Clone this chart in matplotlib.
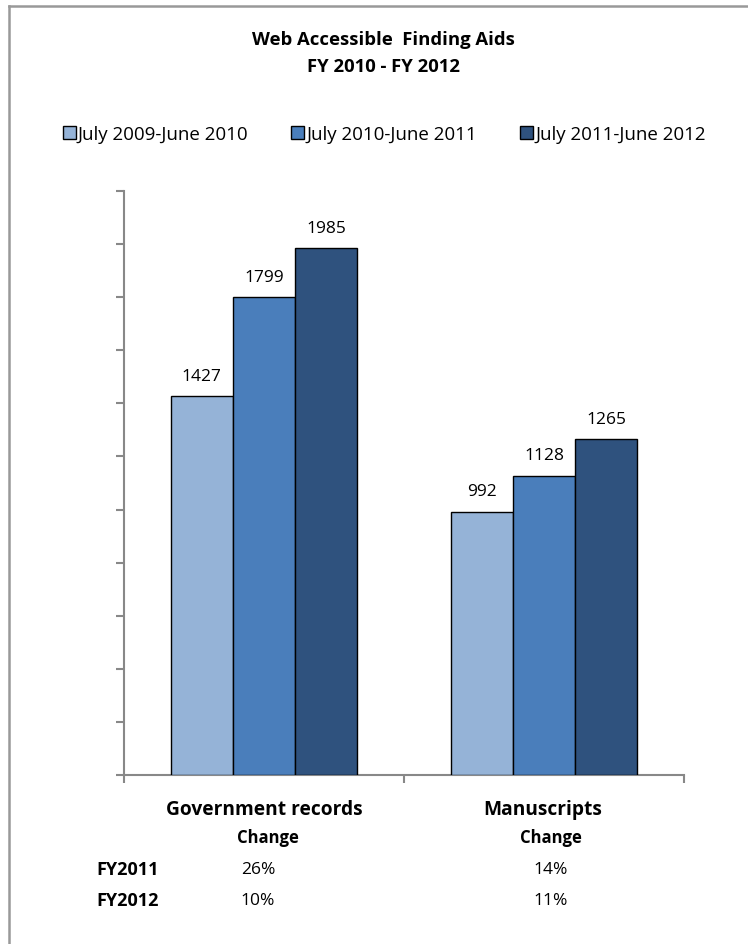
import matplotlib
matplotlib.use("Agg")
import matplotlib.pyplot as plt
from matplotlib.patches import Patch
from matplotlib.lines import Line2D
import numpy as np

plt.rcParams['font.family'] = ['Open Sans', 'DejaVu Sans']

categories = ["Government records", "Manuscripts"]
series_names = ["July 2009-June 2010", "July 2010-June 2011", "July 2011-June 2012"]
fy2010 = [1427, 992]
fy2011 = [1799, 1128]
fy2012 = [1985, 1265]
change_rows = ["FY2011", "FY2012"]
change_gov = ["26%", "10%"]
change_man = ["14%", "11%"]

colors = ["#95B3D7", "#4A7EBB", "#2F527E"]

W, H = 748, 945
fig = plt.figure(figsize=(W / 100, H / 100), dpi=100)

# outer chart frame (top and left edges visible)
fig.add_artist(Line2D([9 / W, 9 / W], [0, 1 - 7 / H], color="#999999", lw=1.8,
                      transform=fig.transFigure))
fig.add_artist(Line2D([9 / W, 1], [1 - 7 / H, 1 - 7 / H], color="#999999", lw=1.8,
                      transform=fig.transFigure))

ax = fig.add_axes([124 / W, 1 - 776 / H, 560 / W, 584 / H])

x = np.arange(len(categories))
bw = 0.222
for i, vals in enumerate([fy2010, fy2011, fy2012]):
    bars = ax.bar(x + (i - 1) * bw, vals, bw, color=colors[i], edgecolor="black",
                  linewidth=1.0, label=series_names[i], zorder=3)
    for b, v in zip(bars, vals):
        ax.annotate(f"{v}", (b.get_x() + b.get_width() / 2, v), xytext=(0, 9),
                    textcoords="offset points", ha="center", va="bottom", fontsize=12.5)

ax.set_xlim(-0.5, 1.5)
ax.set_ylim(0, 2200)
ax.set_yticks(np.arange(0, 2201, 200))
ax.set_yticklabels([])
ax.set_xticks([-0.5, 0.5, 1.5])
ax.set_xticklabels([])
for s in ["top", "right"]:
    ax.spines[s].set_visible(False)
for s in ["left", "bottom"]:
    ax.spines[s].set_color("#888888")
    ax.spines[s].set_linewidth(1.5)
ax.tick_params(axis="both", direction="out", length=6, width=1.5, color="#888888")

# category names and change table beneath the axis
fig_x = lambda px: px / W
fig_y = lambda py: 1 - py / H
cat_x = [264, 543]
for cx, name in zip(cat_x, categories):
    fig.text(fig_x(cx), fig_y(810), name, ha="center", va="center",
             fontsize=13.8, fontweight="bold")
fig.text(fig_x(268), fig_y(838), "Change", ha="center", va="center", fontsize=12, fontweight="bold")
fig.text(fig_x(551), fig_y(838), "Change", ha="center", va="center", fontsize=12, fontweight="bold")
row_y = [870, 901]
for ry, lab, g, m in zip(row_y, change_rows, change_gov, change_man):
    fig.text(fig_x(96), fig_y(ry), lab, ha="left", va="center", fontsize=13, fontweight="bold")
    fig.text(fig_x(258), fig_y(ry), g, ha="center", va="center", fontsize=12.5)
    fig.text(fig_x(551), fig_y(ry), m, ha="center", va="center", fontsize=12.5)

# title
fig.text(fig_x(383), fig_y(40), "Web Accessible  Finding Aids", ha="center", va="center",
         fontsize=13.3, fontweight="bold")
fig.text(fig_x(383), fig_y(67), "FY 2010 - FY 2012", ha="center", va="center",
         fontsize=13.3, fontweight="bold")

handles = [Patch(facecolor=c, edgecolor="black", linewidth=1.0) for c in colors]
fig.legend(handles, series_names, loc="center", bbox_to_anchor=(fig_x(384), fig_y(135)),
           ncol=3, frameon=False, fontsize=13.5, handlelength=0.7, handleheight=0.7,
           handletextpad=0.1, columnspacing=2.3)

fig.savefig("out.png", dpi=100)
